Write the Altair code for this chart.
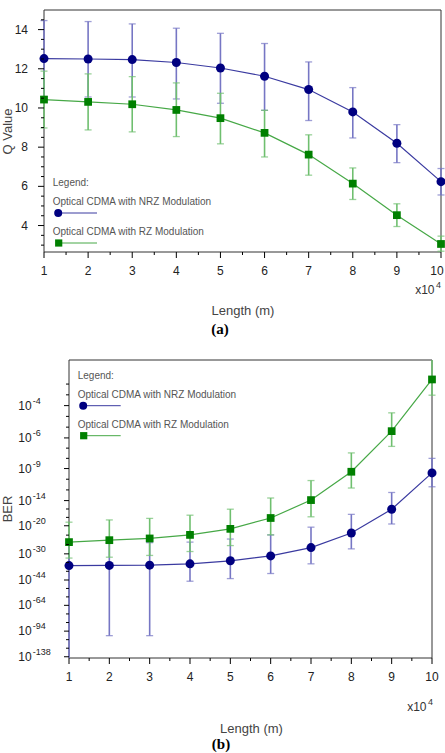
import math
import altair as alt
import pandas as pd

# ---------------- data ----------------
length = [1, 2, 3, 4, 5, 6, 7, 8, 9, 10]          # Length, in units of 10^4 m

series = ["Optical CDMA with NRZ Modulation", "Optical CDMA with RZ Modulation"]

# (a) Q value  (point, upper and lower error bar ends)
q_nrz    = [12.52, 12.50, 12.47, 12.32, 12.04, 11.62, 10.94, 9.80, 8.20, 6.24]
q_nrz_hi = [14.46, 14.41, 14.29, 14.07, 13.81, 13.29, 12.35, 11.04, 9.15, 6.91]
q_nrz_lo = [10.58, 10.56, 10.56, 10.46, 10.24, 9.88, 9.36, 8.47, 7.21, 5.56]
q_rz     = [10.43, 10.31, 10.19, 9.90, 9.48, 8.73, 7.62, 6.14, 4.53, 3.06]
q_rz_hi  = [11.88, 11.74, 11.60, 11.28, 10.75, 9.88, 8.63, 6.94, 5.11, 3.46]
q_rz_lo  = [8.98, 8.88, 8.78, 8.54, 8.17, 7.50, 6.57, 5.33, 3.95, 2.69]

# (b) BER, given as log10(BER)  (point, worse-BER end, better-BER end)
ber_nrz    = [-35.6, -35.5, -35.4, -34.7, -33.2, -30.9, -27.4, -22.2, -15.8, -9.55]
ber_nrz_hi = [-25.7, -25.6, -25.5, -25.3, -24.2, -22.8, -20.4, -17.0, -12.5, -7.85]
ber_nrz_lo = [-170.0, -100.6, -100.6, -44.8, -43.1, -40.0, -34.7, -27.9, -19.5, -11.55]
ber_rz     = [-25.3, -24.6, -24.0, -22.8, -20.9, -17.9, -13.9, -9.4, -5.5, -2.94]
ber_rz_hi  = [-19.0, -18.4, -18.0, -17.2, -15.8, -13.5, -10.6, -7.3, -4.37, -1.9]
ber_rz_lo  = [-31.9, -31.5, -30.7, -29.0, -26.6, -22.8, -17.6, -11.75, -6.7, -3.53]

q_ticks = [4, 6, 8, 10, 12, 14]
q_domain = [2.65, 15.0]
ber_ticks = [-4, -6, -9, -14, -20, -30, -44, -64, -94, -138]
ber_domain = [-2.37, -140.6]

# ---------------- styles / layout (pixels of the 445x753 page) ----------------
NRZ_MARK, NRZ_LINE, NRZ_ERR = "#000080", "#3a3aa0", "#7676c4"
RZ_MARK, RZ_LINE, RZ_ERR = "#008000", "#46a846", "#6fbf6f"
FONT = "Liberation Sans"
SERIF = "Liberation Serif"
FRAME = "#333333"
LAB = "#222222"
TIT = "#444444"

A_L, A_R, A_T, A_B = 44, 441, 10, 252      # panel (a) plot rectangle
B_L, B_R, B_T, B_B = 69, 432, 360, 658     # panel (b) plot rectangle

SQ2 = math.sqrt(2.0)


def q_from_log10_ber(l):
    """Q factor whose Gaussian BER 0.5*erfc(Q/sqrt2) equals 10**l (BER axis scale)."""
    lo, hi = 0.0, 35.0
    for _ in range(90):
        mid = 0.5 * (lo + hi)
        p = 0.5 * math.erfc(mid / SQ2)
        v = math.log10(p) if p > 0 else -1e9
        if v > l:
            lo = mid
        else:
            hi = mid
    return 0.5 * (lo + hi)


one = pd.DataFrame({"t": [""]})


def txt(s, x, y, **kw):
    d = pd.DataFrame({"t": [s]})
    return alt.Chart(d).mark_text(**kw).encode(text="t:N", x=alt.value(x), y=alt.value(y))


def x10(xr, y):
    return [
        txt("x10", xr - 6.5, y, align="right", baseline="middle", fontSize=12, color="#333", font=FONT),
        txt("4", xr, y - 5, align="right", baseline="middle", fontSize=9, color="#333", font=FONT),
    ]


def legend(x0, y0, line_end):
    g = "#555555"
    return [
        txt("Legend:", x0, y0, align="left", baseline="middle", fontSize=10, color=g, font=FONT),
        txt(series[0], x0, y0 + 19, align="left", baseline="middle", fontSize=10, color=g, font=FONT),
        alt.Chart(one).mark_rule(color=NRZ_LINE, strokeWidth=1).encode(
            x=alt.value(x0 + 5.5), x2=alt.value(line_end), y=alt.value(y0 + 30)),
        alt.Chart(one).mark_point(shape="circle", filled=True, size=64, color=NRZ_MARK, opacity=1).encode(
            x=alt.value(x0 + 5.5), y=alt.value(y0 + 30)),
        txt(series[1], x0, y0 + 49, align="left", baseline="middle", fontSize=10, color=g, font=FONT),
        alt.Chart(one).mark_rule(color=RZ_LINE, strokeWidth=1).encode(
            x=alt.value(x0 + 6), x2=alt.value(line_end), y=alt.value(y0 + 60)),
        alt.Chart(one).mark_point(shape="square", filled=True, size=52, color=RZ_MARK, opacity=1).encode(
            x=alt.value(x0 + 6), y=alt.value(y0 + 60)),
    ]


def panel(vals, xs, ys, dom, rect, minor_x, minor_y, extra, last_dx):
    L, R, T, B = rect
    (v1, h1, l1), (v2, h2, l2) = vals
    lo_d, hi_d = min(dom), max(dom)
    X = lambda f: alt.X(f"{f}:Q", scale=xs, axis=None)
    Y = lambda f: alt.Y(f"{f}:Q", scale=ys, axis=None)
    styles = [(v1, h1, l1, NRZ_MARK, NRZ_LINE, NRZ_ERR, "circle", 81),
              (v2, h2, l2, RZ_MARK, RZ_LINE, RZ_ERR, "square", 60)]
    layers = [alt.Chart(one).mark_rect(filled=False, stroke=FRAME, strokeWidth=1).encode(
        x=alt.value(L), x2=alt.value(R), y=alt.value(T), y2=alt.value(B))]
    for v, h, l, cm, cl, ce, shp, sz in styles:
        d = pd.DataFrame({"length": length, "lo": l, "hi": h})
        layers.append(alt.Chart(d).mark_rule(color=ce, strokeWidth=1.6).encode(
            x=X("length"), y=Y("lo"), y2="hi:Q"))
        caps = pd.DataFrame({"length": length + length, "cap": list(l) + list(h)})
        caps = caps[(caps.cap >= lo_d) & (caps.cap <= hi_d)]      # ends beyond the frame show no cap
        layers.append(alt.Chart(caps).mark_tick(orient="horizontal", color=ce, size=7,
                                                thickness=1.3).encode(
            x=X("length"), y=Y("cap")))
    for v, h, l, cm, cl, ce, shp, sz in styles:
        d = pd.DataFrame({"length": length, "val": v})
        layers.append(alt.Chart(d).mark_line(color=cl, strokeWidth=1.2).encode(
            x=X("length"), y=Y("val")))
    for v, h, l, cm, cl, ce, shp, sz in styles:
        d = pd.DataFrame({"length": length, "val": v})
        layers.append(alt.Chart(d).mark_point(shape=shp, filled=True, size=sz, color=cm,
                                              opacity=1).encode(
            x=X("length"), y=Y("val")))
    # x axis: ticks, minor ticks, labels
    layers.append(alt.Chart(pd.DataFrame({"v": length})).mark_rule(color="black").encode(
        x=X("v"), y=alt.value(B), y2=alt.value(B + 6)))
    layers.append(alt.Chart(pd.DataFrame({"v": minor_x})).mark_rule(color="black").encode(
        x=X("v"), y=alt.value(B), y2=alt.value(B + 3)))
    layers.append(alt.Chart(pd.DataFrame({"v": length[:-1]})).mark_text(
        baseline="middle", fontSize=12, font=FONT, color=LAB).encode(
        x=X("v"), y=alt.value(B + 19), text=alt.Text("v:Q", format="d")))
    layers.append(alt.Chart(pd.DataFrame({"v": length[-1:]})).mark_text(
        baseline="middle", fontSize=12, font=FONT, color=LAB, dx=last_dx).encode(
        x=X("v"), y=alt.value(B + 19), text=alt.Text("v:Q", format="d")))
    # y minor ticks
    layers.append(alt.Chart(pd.DataFrame({"v": minor_y})).mark_rule(color="black").encode(
        y=Y("v"), x=alt.value(L - 3), x2=alt.value(L)))
    return layers + [e(X, Y) if callable(e) else e for e in extra]


minor_x = [i + 0.5 for i in range(1, 10)]

# ---------------- panel (a) ----------------
xs_a = alt.Scale(domain=[1, 10], range=[A_L, A_R], nice=False, zero=False)
ys_a = alt.Scale(domain=q_domain, range=[A_B, A_T], nice=False, zero=False, clamp=True)
minor_y_a = [t / 2 for t in range(6, 30) if t % 4 != 0]


def yticks_a(X, Y):
    return alt.Chart(pd.DataFrame({"v": q_ticks})).mark_rule(color="black").encode(
        y=Y("v"), x=alt.value(A_L - 6), x2=alt.value(A_L))


def ylabels_a(X, Y):
    return alt.Chart(pd.DataFrame({"v": q_ticks})).mark_text(
        align="right", baseline="middle", fontSize=12, font=FONT, color=LAB).encode(
        y=Y("v"), x=alt.value(A_L - 16), text=alt.Text("v:Q", format="d"))


layers_a = panel(
    [(q_nrz, q_nrz_hi, q_nrz_lo), (q_rz, q_rz_hi, q_rz_lo)],
    xs_a, ys_a, q_domain, (A_L, A_R, A_T, A_B), minor_x, minor_y_a,
    [yticks_a, ylabels_a]
    + legend(52.7, 183, 97)
    + x10(A_R, 290)
    + [txt("Q Value", 7.5, 131.5, angle=270, align="center", baseline="middle",
           fontSize=13, color=TIT, font=FONT),
       txt("Length (m)", 243, 311, align="center", baseline="middle",
           fontSize=13, color=TIT, font=FONT),
       txt("(a)", 220, 329, align="center", baseline="middle", fontSize=15,
           fontWeight="bold", color="black", font=SERIF)],
    last_dx=-4,
)

# ---------------- panel (b) ----------------
def qcol(arr):
    return [q_from_log10_ber(b) for b in arr]


q_tick_b = qcol(ber_ticks)
q_dom_b = qcol(ber_domain)
lq = [math.log10(q) for q in q_tick_b]
minor_y_b = []
step0 = (lq[1] - lq[0]) / 3
for k in (1, 2):
    minor_y_b.append(10 ** (lq[0] - k * step0))
for i in range(len(lq) - 1):
    for k in (1, 2):
        minor_y_b.append(10 ** (lq[i] + k * (lq[i + 1] - lq[i]) / 3))

xs_b = alt.Scale(domain=[1, 10], range=[B_L, B_R], nice=False, zero=False)
ys_b = alt.Scale(type="log", domain=q_dom_b, range=[B_T, B_B], nice=False, clamp=True)

tick_df = pd.DataFrame({"q": q_tick_b, "e": [str(b) for b in ber_ticks]})


def yticks_b(X, Y):
    return alt.Chart(tick_df).mark_rule(color="black").encode(
        y=Y("q"), x=alt.value(B_L - 5), x2=alt.value(B_L))


def ylab_base(X, Y):
    return alt.Chart(tick_df).mark_text(align="left", baseline="middle", fontSize=12,
                                        font=FONT, color=LAB).encode(
        y=Y("q"), x=alt.value(18.3), text=alt.value("10"))


def ylab_exp(X, Y):
    return alt.Chart(tick_df).mark_text(align="left", baseline="middle", fontSize=9,
                                        font=FONT, color=LAB, dy=-5).encode(
        y=Y("q"), x=alt.value(32.8), text="e:N")


layers_b = panel(
    [(qcol(ber_nrz), qcol(ber_nrz_hi), qcol(ber_nrz_lo)),
     (qcol(ber_rz), qcol(ber_rz_hi), qcol(ber_rz_lo))],
    xs_b, ys_b, q_dom_b, (B_L, B_R, B_T, B_B), minor_x, minor_y_b,
    [yticks_b, ylab_base, ylab_exp]
    + legend(77.7, 375.7, 120.7)
    + x10(433, 706.7)
    + [txt("BER", 7.5, 509, angle=270, align="center", baseline="middle",
           fontSize=13, color=TIT, font=FONT),
       txt("Length (m)", 251.5, 729, align="center", baseline="middle",
           fontSize=13, color=TIT, font=FONT),
       txt("(b)", 221, 744, align="center", baseline="middle", fontSize=15,
           fontWeight="bold", color="black", font=SERIF)],
    last_dx=0,
)

chart = alt.layer(
    alt.layer(*layers_a),
    alt.layer(*layers_b),
).resolve_scale(
    x="independent", y="independent"
).properties(
    width=445, height=753,
    autosize=alt.AutoSizeParams(type="none"),
    padding=0,
    background="white",
).configure_view(
    stroke="transparent"
)

chart.save("out.html", embed_options={"renderer": "svg", "actions": False})
